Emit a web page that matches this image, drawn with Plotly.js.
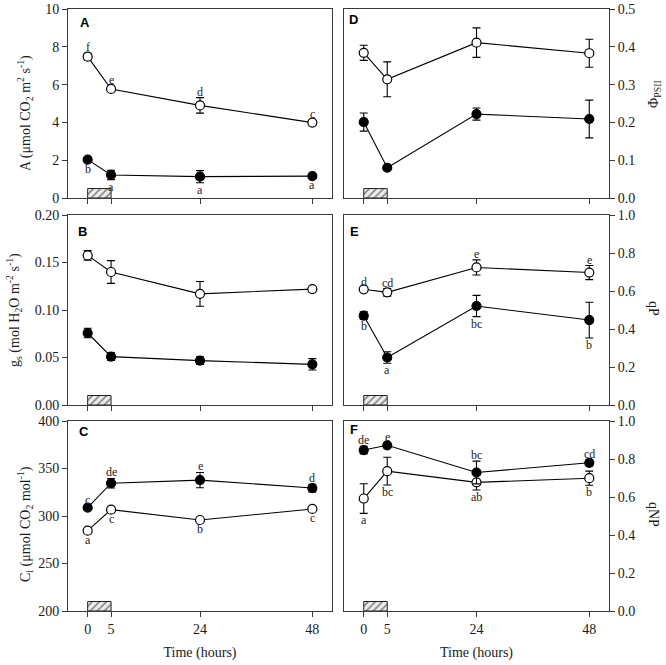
<!DOCTYPE html>
<html>
<head>
<meta charset="utf-8">
<script src="https://cdn.plot.ly/plotly-3.0.1.min.js"></script>
<style>html,body{margin:0;padding:0;background:#fff;}#chart{width:666px;height:665px;}</style>
</head>
<body>
<div id="chart"></div>
<script>
// ---- data ----
const times = [0, 5, 24, 48];
const tickLabels = ['0', '5', '24', '48'];
const stressStart = 0;
const stressEnd = 5;

// Panel A: net photosynthesis
const A_open = [7.48, 5.77, 4.90, 3.99];
const A_open_err = [0.18, 0.13, 0.41, 0.13];
const A_fill = [2.03, 1.22, 1.13, 1.16];
const A_fill_err = [0.1, 0.25, 0.32, 0.12];
const A_open_lbl = ['f', 'e', 'd', 'c'];
const A_fill_lbl = ['b', 'a', 'a', 'a'];

// Panel B: stomatal conductance
const B_open = [0.1575, 0.140, 0.117, 0.122];
const B_open_err = [0.005, 0.012, 0.013, 0.002];
const B_fill = [0.0758, 0.0509, 0.0467, 0.0428];
const B_fill_err = [0.005, 0.004, 0.004, 0.006];

// Panel C: intercellular CO2
const C_open = [284.6, 306.7, 295.8, 307.4];
const C_open_err = [2, 3, 2, 2];
const C_fill = [308.8, 334.5, 337.8, 329.4];
const C_fill_err = [2, 5, 8, 4];
const C_open_lbl = ['a', 'c', 'b', 'c'];
const C_fill_lbl = ['c', 'de', 'e', 'd'];

// Panel D: PhiPSII
const D_open = [0.384, 0.314, 0.411, 0.383];
const D_open_err = [0.02, 0.046, 0.039, 0.037];
const D_fill = [0.201, 0.080, 0.222, 0.209];
const D_fill_err = [0.024, 0.005, 0.016, 0.05];

// Panel E: qP
const E_open = [0.609, 0.593, 0.724, 0.697];
const E_open_err = [0.006, 0.02, 0.04, 0.037];
const E_fill = [0.470, 0.250, 0.521, 0.447];
const E_fill_err = [0.02, 0.03, 0.056, 0.094];
const E_open_lbl = ['d', 'cd', 'e', 'e'];
const E_fill_lbl = ['b', 'a', 'bc', 'b'];

// Panel F: qNP
const F_open = [0.592, 0.736, 0.677, 0.699];
const F_open_err = [0.078, 0.073, 0.04, 0.037];
const F_fill = [0.847, 0.872, 0.729, 0.780];
const F_fill_err = [0.02, 0.01, 0.06, 0.015];
const F_open_lbl = ['a', 'bc', 'ab', 'b'];
const F_fill_lbl = ['de', 'e', 'bc', 'cd'];

// ---- panel setup ----
const SERIF = "'Liberation Serif', 'Times New Roman', serif";
const SANS = "'Liberation Sans', Arial, sans-serif";
const INK = '#1a1a1a';
const AXC = '#3a3a3a';

const colX = [[68/666, 332/666], [344/666, 609/666]];
const rowY = [[1 - 198/665, 1 - 9/665], [1 - 405/665, 1 - 215/665], [1 - 611/665, 1 - 421/665]];

const panels = [
  {id: 'A', col: 0, row: 0, range: [0, 10], dtick: 2, fmt: '', open: A_open, oErr: A_open_err, fill: A_fill, fErr: A_fill_err, oLbl: A_open_lbl, fLbl: A_fill_lbl, oAbove: true,
   title: 'A (μmol CO<sub>2</sub> m<sup>2</sup> s<sup>-1</sup>)', tx: 25, ty: 113, angle: -90, lx: 79, ly: 14},
  {id: 'B', col: 0, row: 1, range: [0, 0.2], dtick: 0.05, fmt: '.2f', open: B_open, oErr: B_open_err, fill: B_fill, fErr: B_fill_err, oLbl: null, fLbl: null, oAbove: true,
   title: 'g<sub>s</sub> (mol H<sub>2</sub>O m<sup>-2</sup> s<sup>-1</sup>)', tx: 14, ty: 310, angle: -90, lx: 77, ly: 223},
  {id: 'C', col: 0, row: 2, range: [200, 400], dtick: 50, fmt: '', open: C_open, oErr: C_open_err, fill: C_fill, fErr: C_fill_err, oLbl: C_open_lbl, fLbl: C_fill_lbl, oAbove: false,
   title: 'C<sub>i</sub> (μmol CO<sub>2</sub> mol<sup>-1</sup>)', tx: 25, ty: 524, angle: -90, lx: 78, ly: 423},
  {id: 'D', col: 1, row: 0, range: [0, 0.5], dtick: 0.1, fmt: '.1f', open: D_open, oErr: D_open_err, fill: D_fill, fErr: D_fill_err, oLbl: null, fLbl: null, oAbove: true,
   title: 'Φ<sub>PSII</sub>', tx: 654, ty: 94, angle: -90, lx: 348, ly: 11},
  {id: 'E', col: 1, row: 1, range: [0, 1], dtick: 0.2, fmt: '.1f', open: E_open, oErr: E_open_err, fill: E_fill, fErr: E_fill_err, oLbl: E_open_lbl, fLbl: E_fill_lbl, oAbove: true,
   title: 'qP', tx: 654, ty: 308, angle: 90, lx: 349, ly: 223},
  {id: 'F', col: 1, row: 2, range: [0, 1], dtick: 0.2, fmt: '.1f', open: F_open, oErr: F_open_err, fill: F_fill, fErr: F_fill_err, oLbl: F_open_lbl, fLbl: F_fill_lbl, oAbove: false,
   title: 'qNP', tx: 654, ty: 514, angle: 90, lx: 349, ly: 421}
];

const traces = [];
const annotations = [];
const layout = {
  width: 666, height: 665,
  margin: {l: 0, r: 0, t: 0, b: 0},
  paper_bgcolor: '#fff', plot_bgcolor: '#fff',
  showlegend: false,
  font: {family: SERIF, size: 14, color: INK},
  annotations: annotations
};

panels.forEach((p, i) => {
  const n = i + 1;
  const xa = 'x' + (n === 1 ? '' : n);
  const ya = 'y' + (n === 1 ? '' : n);
  const xKey = 'xaxis' + (n === 1 ? '' : n);
  const yKey = 'yaxis' + (n === 1 ? '' : n);
  const bottom = p.row === 2;
  const left = p.col === 0;

  layout[xKey] = {
    domain: colX[p.col], anchor: ya, range: [-4.2, 52.2],
    tickmode: 'array', tickvals: times, ticktext: tickLabels,
    showticklabels: bottom, ticks: 'outside', ticklen: 5, tickwidth: 1, tickcolor: AXC,
    showline: true, linecolor: AXC, linewidth: 1, mirror: true,
    showgrid: false, zeroline: false,
    tickfont: {family: SERIF, size: 14, color: INK}
  };
  if (bottom) layout[xKey].title = {text: 'Time (hours)', font: {family: SERIF, size: 14, color: INK}, standoff: 11};

  layout[yKey] = {
    domain: rowY[p.row], anchor: xa, range: p.range, dtick: p.dtick, tick0: p.range[0],
    tickformat: p.fmt, side: left ? 'left' : 'right',
    ticks: 'outside', ticklen: 5, tickwidth: 1, tickcolor: AXC,
    showline: true, linecolor: AXC, linewidth: 1, mirror: true,
    showgrid: false, zeroline: false,
    tickfont: {family: SERIF, size: 14, color: INK}
  };

  // stress period hatched bar
  const span = p.range[1] - p.range[0];
  traces.push({
    type: 'bar', xaxis: xa, yaxis: ya,
    x: [(stressStart + stressEnd) / 2], width: [stressEnd - stressStart],
    y: [span * 0.05], base: [p.range[0]],
    marker: {color: '#ececec', line: {color: '#222', width: 1},
             pattern: {shape: '/', fgcolor: '#808080', bgcolor: '#ececec', size: 5, solidity: 0.3}},
    hoverinfo: 'skip'
  });

  const common = {type: 'scatter', mode: 'lines+markers', xaxis: xa, yaxis: ya, x: times,
    line: {color: '#000', width: 1.1}, hoverinfo: 'skip', cliponaxis: false};
  traces.push(Object.assign({}, common, {
    y: p.open,
    error_y: {type: 'data', array: p.oErr, color: '#000', thickness: 1.1, width: 4},
    marker: {symbol: 'circle', size: 9, color: '#fff', line: {color: '#000', width: 1.2}}
  }));
  traces.push(Object.assign({}, common, {
    y: p.fill,
    error_y: {type: 'data', array: p.fErr, color: '#000', thickness: 1.1, width: 4},
    marker: {symbol: 'circle', size: 9, color: '#000', line: {color: '#000', width: 1.2}}
  }));

  // significance letters
  const addLetters = (vals, errs, lbls, above) => {
    if (!lbls) return;
    lbls.forEach((t, k) => {
      annotations.push({
        xref: xa, yref: ya, x: times[k],
        y: above ? vals[k] + errs[k] : vals[k] - errs[k],
        text: t, showarrow: false,
        yanchor: above ? 'bottom' : 'top', yshift: above ? -2 : 1,
        font: {family: SERIF, size: 12, color: '#222'}, borderpad: 0
      });
    });
  };
  addLetters(p.open, p.oErr, p.oLbl, p.oAbove);
  addLetters(p.fill, p.fErr, p.fLbl, !p.oAbove);

  // panel letter
  annotations.push({
    xref: 'paper', yref: 'paper', x: p.lx / 666, y: 1 - p.ly / 665,
    xanchor: 'left', yanchor: 'top', text: '<b>' + p.id + '</b>', showarrow: false,
    font: {family: SANS, size: 13, color: '#000'}, borderpad: 0
  });

  // axis titles
  annotations.push({
    xref: 'paper', yref: 'paper', x: p.tx / 666, y: 1 - p.ty / 665,
    xanchor: 'center', yanchor: 'middle', text: p.title, textangle: p.angle, showarrow: false,
    font: {family: SERIF, size: 14, color: INK}
  });
});

Plotly.newPlot('chart', traces, layout, {staticPlot: true, displayModeBar: false});
</script>
</body>
</html>
